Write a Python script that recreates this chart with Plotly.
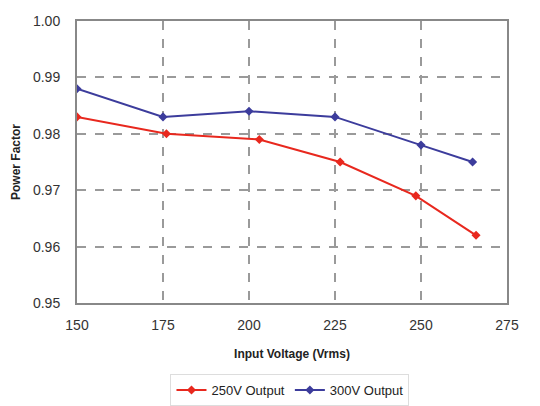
import plotly.graph_objects as go

x_250 = [150, 176, 203, 226.5, 248.5, 266]
pf_250 = [0.983, 0.980, 0.979, 0.975, 0.969, 0.962]
x_300 = [150, 175, 200, 225, 250, 265]
pf_300 = [0.988, 0.983, 0.984, 0.983, 0.978, 0.975]
x_ticks = [150, 175, 200, 225, 250, 275]
y_ticks = [0.95, 0.96, 0.97, 0.98, 0.99, 1.00]

RED = "#e8281e"
BLUE = "#3c3c9c"
GRID = "#9a9a9a"
FONT = "Liberation Sans, Arial, sans-serif"

fig = go.Figure()
fig.add_trace(go.Scatter(x=x_250, y=pf_250, mode="lines+markers", name="250V Output",
                         line=dict(color=RED, width=2),
                         marker=dict(symbol="diamond", size=7, color=RED)))
fig.add_trace(go.Scatter(x=x_300, y=pf_300, mode="lines+markers", name="300V Output",
                         line=dict(color=BLUE, width=2),
                         marker=dict(symbol="diamond", size=7, color=BLUE)))

fig.update_layout(
    width=540, height=406,
    margin=dict(l=77, r=33, t=21, b=103),
    paper_bgcolor="white", plot_bgcolor="white",
    font=dict(family=FONT, size=14, color="#333333"),
    showlegend=True,
    legend=dict(orientation="h", xref="container", yref="container",
                x=0.537, xanchor="center", y=-0.018, yanchor="bottom",
                bordercolor="#dddddd", borderwidth=1, font=dict(size=13, color="#222222"),
                itemwidth=30, tracegroupgap=0),
)
fig.update_xaxes(range=[150, 275], tickvals=x_ticks, ticktext=[str(v) for v in x_ticks],
                 showgrid=True, gridcolor=GRID, griddash="dash", gridwidth=1.5,
                 showline=True, linecolor="#888888", linewidth=2, mirror=True,
                 zeroline=False, ticks="", ticklabelstandoff=8, automargin=False,
                 title=dict(text="<b>Input Voltage (Vrms)</b>", font=dict(size=12, color="#222222"), standoff=18))
fig.update_yaxes(range=[0.95, 1.00], tickvals=y_ticks, ticktext=[f"{v:.2f}" for v in y_ticks],
                 showgrid=True, gridcolor=GRID, griddash="dash", gridwidth=1.5,
                 showline=True, linecolor="#888888", linewidth=2, mirror=True,
                 zeroline=False, ticks="", ticklabelstandoff=12, automargin=False,
                 title=dict(text="<b>Power Factor</b>", font=dict(size=12, color="#222222"), standoff=10))

fig.write_html("out.html", config={"displayModeBar": False},
               post_script="document.body.style.margin='0px';")
